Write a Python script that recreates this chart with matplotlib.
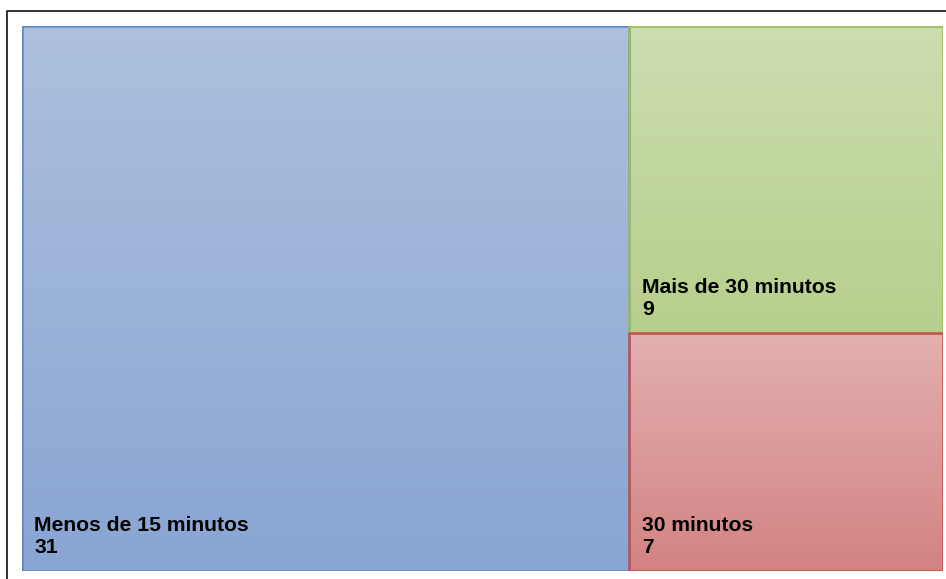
import matplotlib
matplotlib.use("Agg")
import matplotlib.pyplot as plt
import numpy as np
from matplotlib.colors import LinearSegmentedColormap
from matplotlib.patches import Rectangle
from matplotlib.lines import Line2D

categories = ["Menos de 15 minutos", "Mais de 30 minutos", "30 minutos"]
values = [31, 9, 7]
top_colors = ["#adc0de", "#ccddb0", "#e3b0b0"]
bottom_colors = ["#89a5d2", "#b7cf8c", "#d38383"]
edge_colors = ["#5f8ac3", "#9dbd5e", "#c4524f"]

W, H = 946, 579
fig = plt.figure(figsize=(W / 100, H / 100), dpi=100)
fig.patch.set_facecolor("white")

# outer frame
fig.add_artist(Line2D([7 / W, 7 / W, 1.0], [0.0, 1 - 11 / H, 1 - 11 / H],
                      transform=fig.transFigure, color="#222222", lw=1.3))

ax = fig.add_axes([22 / W, 8 / H, 921 / W, 545 / H])
ax.set_xlim(0, 1)
ax.set_ylim(0, 1)
ax.axis("off")

total = sum(values)
w0 = values[0] / total
rest = values[1] + values[2]
h2 = values[2] / rest
rects = [
    (0, 0, w0, 1),
    (w0, h2, 1 - w0, 1 - h2),
    (w0, 0, 1 - w0, h2),
]

grad = np.linspace(1, 0, 256).reshape(-1, 1)
txt = dict(textcoords="offset points", ha="left", va="baseline", fontsize=15.2,
           fontweight="bold", family="Liberation Sans", color="black", zorder=3)
for (x, y, w, h), cat, val, tc, bc, ec in zip(rects, categories, values,
                                              top_colors, bottom_colors, edge_colors):
    cmap = LinearSegmentedColormap.from_list("g", [bc, tc])
    ax.imshow(grad, extent=(x, x + w, y, y + h), cmap=cmap, aspect="auto",
              origin="upper", zorder=1, interpolation="bilinear")
    ax.add_patch(Rectangle((x, y), w, h, fill=False, edgecolor=ec, lw=1.8, zorder=2))
    ax.annotate(str(val), xy=(x, y), xytext=(9, 13), **txt)
    ax.annotate(cat, xy=(x, y), xytext=(9, 28.8), **txt)

fig.savefig("out.png", dpi=100, facecolor="white")
